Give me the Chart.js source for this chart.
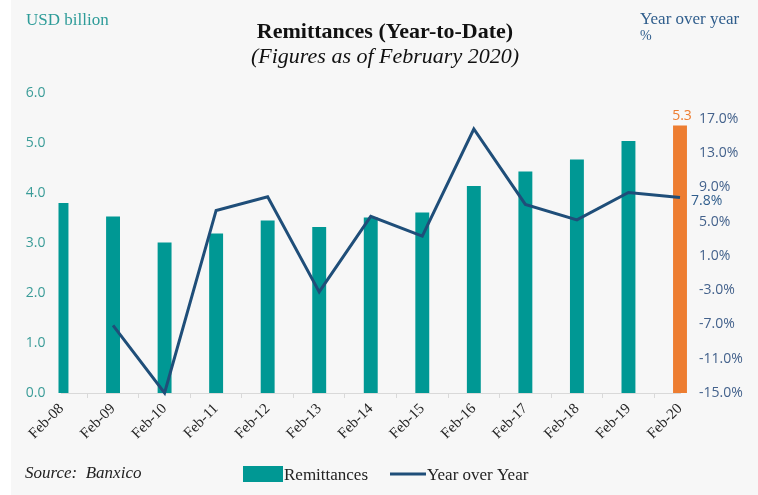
<!DOCTYPE html>
<html>
<head>
<meta charset="utf-8">
<script src="https://cdn.jsdelivr.net/npm/chart.js@4"></script>
<style>
    html, body { margin: 0; padding: 0; background: #ffffff; }
    #wrap { position: relative; width: 758px; height: 495px; }
</style>
</head>
<body>
<div id="wrap"><canvas id="chart" width="758" height="495"></canvas></div>
<script>
// Chart data
const categories = ['Feb-08', 'Feb-09', 'Feb-10', 'Feb-11', 'Feb-12', 'Feb-13', 'Feb-14',
                    'Feb-15', 'Feb-16', 'Feb-17', 'Feb-18', 'Feb-19', 'Feb-20'];
const remittances = [3.8, 3.53, 3.01, 3.19, 3.45, 3.32, 3.51, 3.61, 4.14, 4.43, 4.67, 5.04, 5.35];
const yearOverYear = [null, -7.1, -15.0, 6.3, 7.9, -3.2, 5.6, 3.3, 15.8, 7.0, 5.2, 8.4, 7.8];
const leftTicks = [0, 1, 2, 3, 4, 5, 6];
const rightTicks = [-15, -11, -7, -3, 1, 5, 9, 13, 17];

const TEAL = '#009894';
const ORANGE = '#ED7D31';
const NAVY = '#1F4E79';
const SERIF = '"Liberation Serif", "Times New Roman", serif';
const SANS = '"Open Sans", "Noto Sans", sans-serif';

// Background + texts around the plot
const decorPlugin = {
    id: 'decor',
    beforeDraw(chart) {
        const ctx = chart.ctx;
        ctx.save();
        ctx.fillStyle = '#ffffff';
        ctx.fillRect(0, 0, chart.width, chart.height);
        ctx.fillStyle = '#F7F7F7';
        ctx.fillRect(11, 0, chart.width - 11, chart.height);
        ctx.restore();
    },
    afterDraw(chart) {
        const ctx = chart.ctx;
        ctx.save();
        ctx.textBaseline = 'alphabetic';

        // Axis unit labels
        ctx.font = '17px ' + SERIF;
        ctx.fillStyle = '#2E9C99';
        ctx.textAlign = 'left';
        ctx.fillText('USD billion', 26, 25);

        ctx.fillStyle = '#2F5D8C';
        ctx.fillText('Year over year', 640, 24);
        ctx.font = '14px ' + SERIF;
        ctx.fillText('%', 640, 40);

        // Title
        ctx.fillStyle = '#111111';
        ctx.textAlign = 'center';
        ctx.font = 'bold 22px ' + SERIF;
        ctx.fillText('Remittances (Year-to-Date)', 385, 38);
        ctx.font = 'italic 22px ' + SERIF;
        ctx.fillText('(Figures as of February 2020)', 385, 63);

        // Source
        ctx.textAlign = 'left';
        ctx.font = 'italic 17px ' + SERIF;
        ctx.fillStyle = '#222222';
        ctx.fillText('Source:  Banxico', 25, 478);

        // Legend
        ctx.fillStyle = TEAL;
        ctx.fillRect(243, 466, 40, 16);
        ctx.font = '17px ' + SERIF;
        ctx.fillStyle = '#222222';
        ctx.fillText('Remittances', 284, 480);
        ctx.strokeStyle = NAVY;
        ctx.lineWidth = 3;
        ctx.beginPath();
        ctx.moveTo(390, 474);
        ctx.lineTo(426, 474);
        ctx.stroke();
        ctx.fillText('Year over Year', 427, 480);

        // Data labels on the last category
        const last = categories.length - 1;
        const bar = chart.getDatasetMeta(1).data[last];
        ctx.font = '14px ' + SANS;
        ctx.fillStyle = ORANGE;
        ctx.textAlign = 'center';
        ctx.textBaseline = 'bottom';
        ctx.fillText(remittances[last].toFixed(1), bar.x + 2, bar.y - 2);

        const pt = chart.getDatasetMeta(0).data[last];
        ctx.fillStyle = '#2F5D8C';
        ctx.textAlign = 'left';
        ctx.textBaseline = 'middle';
        ctx.fillText(yearOverYear[last].toFixed(1) + '%', pt.x + 11, pt.y + 3);
        ctx.restore();
    }
};

new Chart(document.getElementById('chart'), {
    data: {
        labels: categories,
        datasets: [{
            type: 'line',
            label: 'Year over Year',
            data: yearOverYear,
            yAxisID: 'y2',
            borderColor: NAVY,
            borderWidth: 3,
            pointRadius: 0,
            tension: 0,
            clip: false,
            order: 0
        }, {
            type: 'bar',
            label: 'Remittances',
            data: remittances,
            yAxisID: 'y',
            backgroundColor: remittances.map((v, i) => i === remittances.length - 1 ? ORANGE : TEAL),
            barPercentage: 0.27,
            categoryPercentage: 1,
            clip: { left: 3, right: 7, top: false, bottom: 0 },
            order: 1
        }]
    },
    options: {
        responsive: false,
        animation: false,
        events: [],
        layout: { padding: { top: 93, left: 0, right: 0, bottom: 0 } },
        plugins: {
            legend: { display: false },
            tooltip: { enabled: false }
        },
        scales: {
            x: {
                offset: false,
                grid: { drawOnChartArea: false, drawTicks: true, tickLength: 5, color: '#D9D9D9' },
                border: { color: '#D9D9D9', width: 1 },
                ticks: {
                    minRotation: 45,
                    maxRotation: 45,
                    autoSkip: false,
                    padding: 2,
                    color: '#262626',
                    font: { family: SERIF, size: 15 }
                },
                afterFit(scale) { scale.height = 102; }
            },
            y: {
                position: 'left',
                min: 0,
                max: 6,
                grid: { display: false, drawTicks: false },
                border: { display: false },
                ticks: {
                    padding: 16,
                    color: '#3A9C98',
                    font: { family: SANS, size: 14 },
                    callback: v => v.toFixed(1)
                },
                afterBuildTicks(scale) { scale.ticks = leftTicks.map(v => ({ value: v })); },
                afterFit(scale) { scale.width = 61.5; }
            },
            y2: {
                position: 'right',
                min: -15,
                max: 20,
                grid: { display: false, drawTicks: false },
                border: { display: false },
                ticks: {
                    padding: 19,
                    color: '#44628C',
                    font: { family: SANS, size: 14 },
                    callback: v => v.toFixed(1) + '%'
                },
                afterBuildTicks(scale) { scale.ticks = rightTicks.map(v => ({ value: v })); },
                afterFit(scale) { scale.width = 78; }
            }
        }
    },
    plugins: [decorPlugin]
});
</script>
</body>
</html>
